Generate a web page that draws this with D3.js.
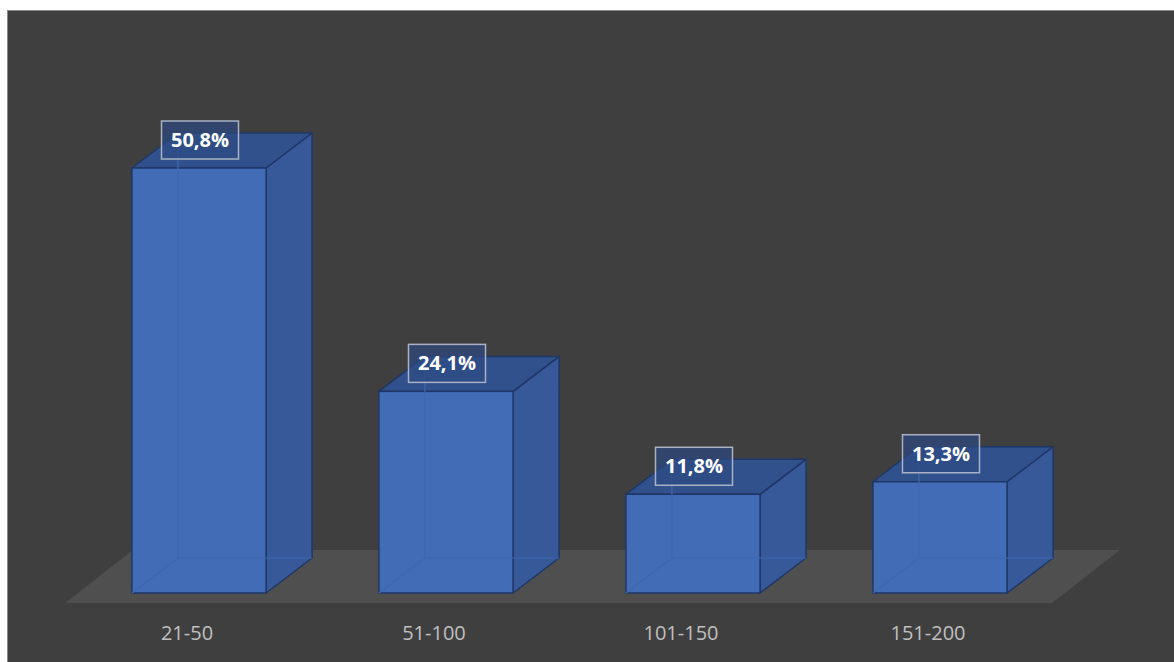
<!DOCTYPE html>
<html><head><meta charset="utf-8">
<script src="https://cdn.jsdelivr.net/npm/d3@7"></script>
<style>body{margin:0;background:#fff}svg{display:block}</style>
</head><body>
<svg id="c" width="1174" height="662"></svg>
<script>
const categories = ["21-50", "51-100", "101-150", "151-200"];
const values = [50.8, 24.1, 11.8, 13.3];
const valueLabels = ["50,8%", "24,1%", "11,8%", "13,3%"];

const svg = d3.select("#c");
const W = 1174, H = 662;
const DX = 46, DY = -35;
const base = 593;

svg.append("rect").attr("x", 7.5).attr("y", 10.5).attr("width", W).attr("height", H)
  .attr("fill", "#3f3f3f").attr("stroke", "#8a8a8a").attr("stroke-width", 1);

const x = d3.scaleBand().domain(categories).range([75.5, 1063.5])
  .paddingInner(0.457).paddingOuter(0.2285).align(0.5);
const y = d3.scaleLinear().domain([0, 60]).range([base, base - 60 * 8.366]);

// floor
svg.append("path")
  .attr("d", "M65,603 L1052,603 L1120,550 L133,550 Z")
  .attr("fill", "#4f4f4f");

const g = svg.append("g");
const bars = g.selectAll("g.bar").data(categories.map((c, i) => ({c, v: values[i], l: valueLabels[i]})))
  .join("g").attr("class", "bar");

const edge = "#1f3767";
bars.each(function(d) {
  const s = d3.select(this);
  const x0 = x(d.c), x1 = x0 + x.bandwidth();
  const yt = y(d.v), yb = y(0);
  // side
  s.append("path").attr("d", `M${x1},${yt} L${x1+DX},${yt+DY} L${x1+DX},${yb+DY} L${x1},${yb} Z`)
    .attr("fill", "#37599a").attr("stroke", edge).attr("stroke-width", 1.5).attr("stroke-linejoin", "round");
  // top
  s.append("path").attr("d", `M${x0},${yt} L${x0+DX},${yt+DY} L${x1+DX},${yt+DY} L${x1},${yt} Z`)
    .attr("fill", "#31518d").attr("stroke", edge).attr("stroke-width", 1.5).attr("stroke-linejoin", "round");
  // front
  s.append("rect").attr("x", x0).attr("y", yt).attr("width", x1 - x0).attr("height", yb - yt)
    .attr("fill", "#426db6").attr("stroke", edge).attr("stroke-width", 1.5);
  // faint hidden edges (transparency)
  s.append("path").attr("d", `M${x0},${yb} L${x0+DX},${yb+DY} L${x1+DX},${yb+DY} M${x0+DX},${yb+DY} L${x0+DX},${yt+DY}`)
    .attr("fill", "none").attr("stroke", "#3d68b0").attr("stroke-width", 1.2);
  const cx = (x0 + x1) / 2;
  // label box
  const bw = 77, bh = 38;
  s.append("rect").attr("x", cx - bw / 2 + 1).attr("y", yt - 9 - bh).attr("width", bw).attr("height", bh)
    .attr("fill", "#2e4a82").attr("fill-opacity", 0.7)
    .attr("stroke", "#a9b1c2").attr("stroke-width", 1.5);
  s.append("text").attr("x", cx + 1).attr("y", yt - 9 - bh / 2 + 7)
    .attr("text-anchor", "middle").attr("fill", "#ffffff")
    .attr("font-family", "'Open Sans', 'Noto Sans', sans-serif").attr("font-weight", 700)
    .attr("font-size", 20).text(d.l);
});

// category labels
svg.selectAll("text.cat").data(categories).join("text").attr("class", "cat")
  .attr("x", d => x(d) + x.bandwidth() / 2 - 12).attr("y", 640)
  .attr("text-anchor", "middle").attr("fill", "#bfbfbf")
  .attr("font-family", "'Open Sans', 'Noto Sans', sans-serif").attr("font-size", 20)
  .text(d => d);
</script>
</body></html>
